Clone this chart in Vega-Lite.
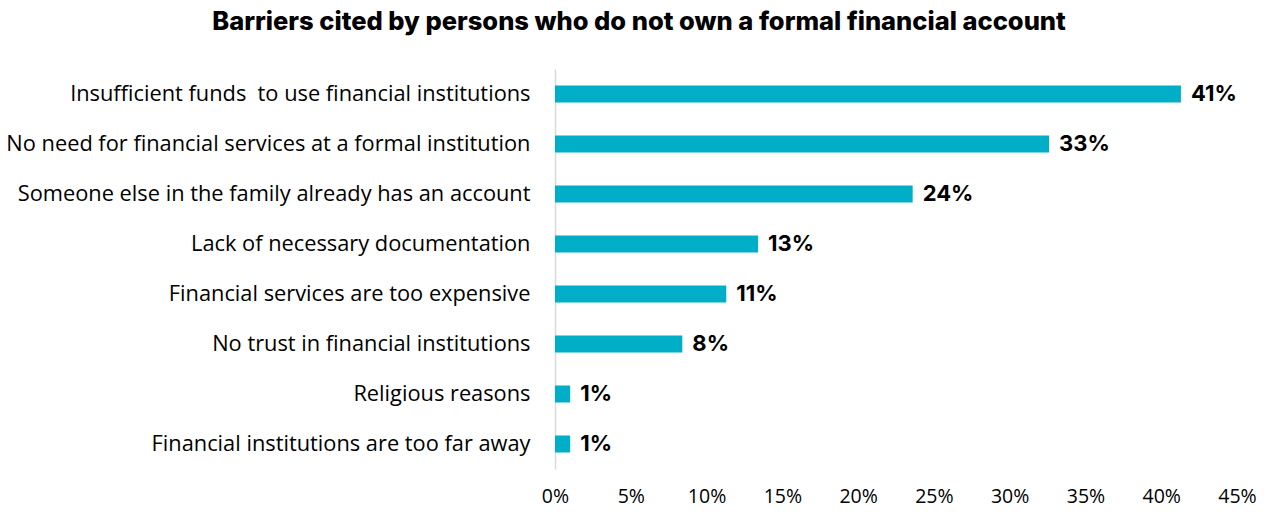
{
  "$schema": "https://vega.github.io/schema/vega-lite/v6.json",
  "autosize": {"type": "none"},
  "width": 682,
  "height": 400,
  "padding": {"left": 555, "top": 69, "right": 43, "bottom": 46},
  "background": "white",
  "title": {
    "text": "Barriers cited by persons who do not own a formal financial account",
    "font": "Inter",
    "fontWeight": 800,
    "fontSize": 25.5,
    "color": "#000000",
    "anchor": "middle",
    "dx": -257,
    "offset": 34
  },
  "data": {
    "values": [
      {"barrier": "Insufficient funds\u00a0 to use financial institutions", "share": 0.413},
      {"barrier": "No need for financial services at a formal institution", "share": 0.326},
      {"barrier": "Someone else in the family already has an account", "share": 0.236},
      {"barrier": "Lack of necessary documentation", "share": 0.134},
      {"barrier": "Financial services are too expensive", "share": 0.113},
      {"barrier": "No trust in financial institutions", "share": 0.084},
      {"barrier": "Religious reasons", "share": 0.01},
      {"barrier": "Financial institutions are too far away", "share": 0.01}
    ]
  },
  "encoding": {
    "y": {
      "field": "barrier",
      "type": "nominal",
      "sort": null,
      "scale": {"paddingInner": 0.66, "paddingOuter": 0.33},
      "axis": {
        "title": null,
        "ticks": false,
        "domain": true,
        "domainColor": "#d9d9d9",
        "domainWidth": 1.5,
        "labelPadding": 25,
        "labelFont": "Open Sans",
        "labelFontSize": 21.8,
        "labelColor": "#000000",
        "labelLimit": 600
      }
    },
    "x": {
      "field": "share",
      "type": "quantitative",
      "scale": {"domain": [0, 0.45], "nice": false},
      "axis": {
        "title": null,
        "format": ".0%",
        "values": [0, 0.05, 0.1, 0.15, 0.2, 0.25, 0.3, 0.35, 0.4, 0.45],
        "grid": false,
        "domain": false,
        "ticks": false,
        "labelPadding": 18,
        "labelFont": "Open Sans",
        "labelFontSize": 19.5,
        "labelColor": "#000000",
        "labelFlush": false
      }
    }
  },
  "layer": [
    {"mark": {"type": "bar", "color": "#00AEC7"}},
    {
      "mark": {"type": "text", "align": "left", "dx": 10, "font": "Inter", "fontWeight": "bold", "fontSize": 22, "color": "#000000"},
      "encoding": {"text": {"field": "share", "format": ".0%"}}
    }
  ],
  "config": {"view": {"stroke": null}}
}
